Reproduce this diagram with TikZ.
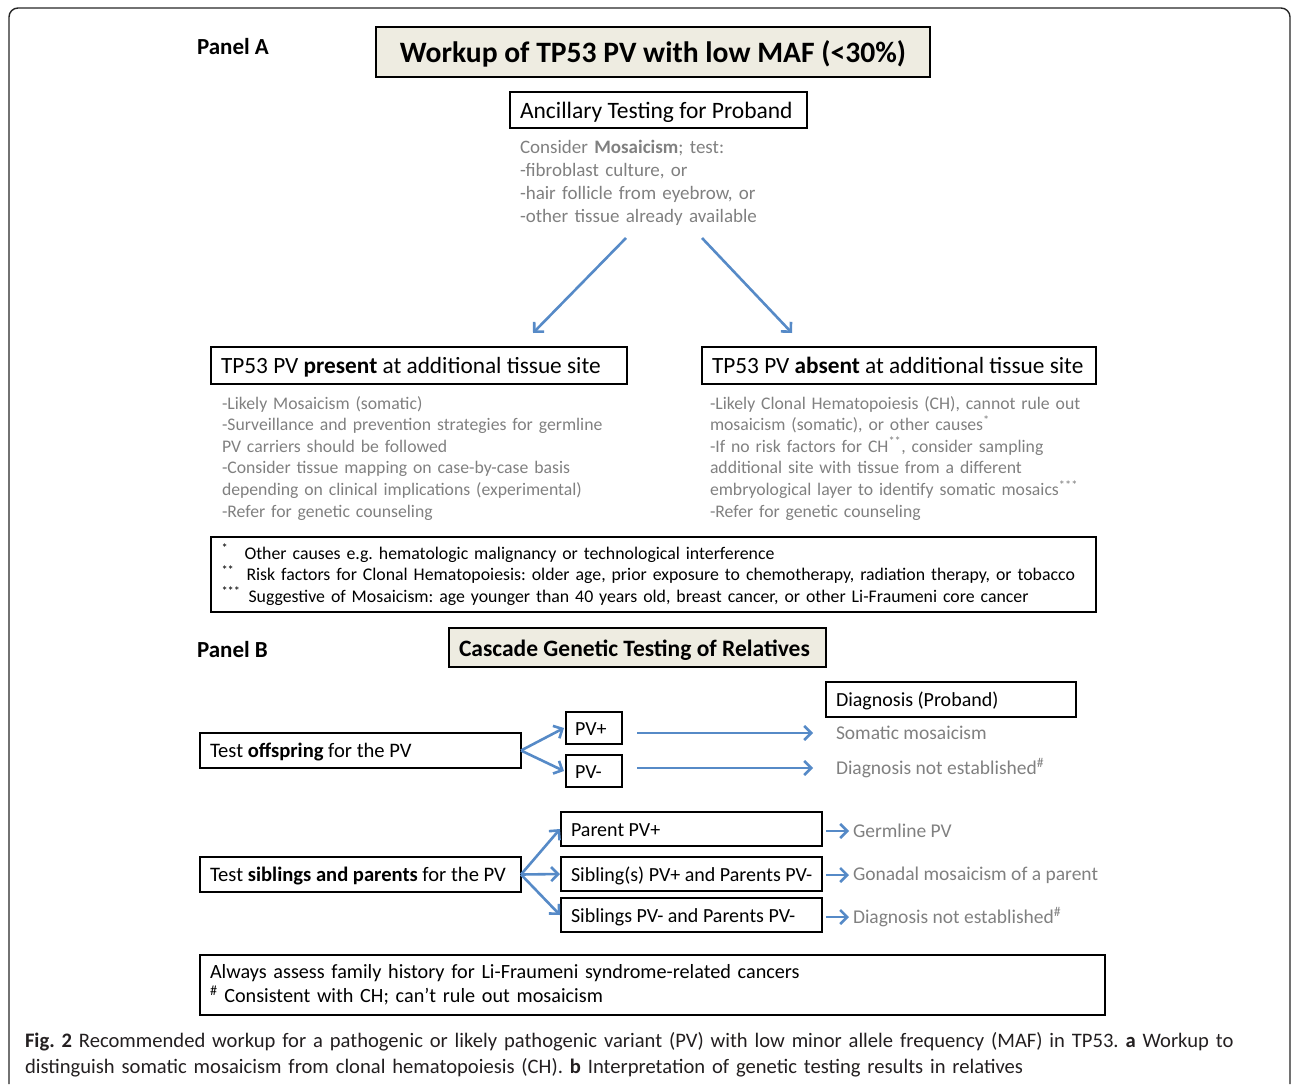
\documentclass[tikz,border=0pt]{standalone}
\usepackage{fontspec}
\setmainfont{Carlito}
\usetikzlibrary{arrows.meta,calc}
\definecolor{beige}{RGB}{238,236,225}
\definecolor{arrowblue}{RGB}{86,138,199}
\definecolor{graytext}{RGB}{128,128,128}
\definecolor{captext}{RGB}{35,31,32}
\newcommand{\lbx}[2]{\makebox[#1pt][l]{#2}}
\begin{document}
\frenchspacing
\begin{tikzpicture}[x=1pt,y=-1pt,
  box/.style={draw=black, line width=1.8pt, rectangle, anchor=north west, inner sep=0pt, outer sep=0pt, align=center},
  plain/.style={inner sep=0pt, outer sep=0pt},
  gtext/.style={plain, text=graytext, align=left},
  arr/.style={draw=arrowblue, line width=2.6pt, -{Straight Barb[length=7pt,width=14pt]}},
  fA/.style={font=\fontsize{23.3}{27}\selectfont, text height=16.6pt, text depth=0pt},
  fB/.style={font=\fontsize{20}{24}\selectfont, text height=14.5pt, text depth=0pt},
  fBt/.style={font=\fontsize{20.6}{24}\selectfont, text height=14.8pt, text depth=0pt},
  fBg/.style={font=\fontsize{19.5}{23}\selectfont},
]
\useasboundingbox (0,0) rectangle (1292,1084);
% outer frame
\draw[line width=1.4pt, black!85, rounded corners=9pt] (9,1084) -- (9,8) -- (1290,8) -- (1290,1084);

% ---------- Panel A ----------
\node[plain, anchor=west, font=\fontsize{23}{27}\selectfont\bfseries] (panelA) at (197,47) {Panel A};
\node[box, fill=beige, minimum width=554pt, minimum height=50pt, text height=21.6pt, text depth=0pt,
      font=\fontsize{29.6}{35}\selectfont\bfseries] (title) at (376,27) {Workup of TP53 PV with low MAF (<30\%)};
\node[box, font=\fontsize{23.5}{27}\selectfont, text height=16.8pt, text depth=0pt, minimum width=297pt, minimum height=36pt] (anc) at (510,92)
  {\lbx{277}{Ancillary Testing for Proband}};
\node[gtext, anchor=base west, text width=320pt, font=\fontsize{19}{23}\selectfont] (anctext) at (520,153)
  {Consider \textbf{Mosaicism}; test:\\-fibroblast culture, or\\-hair follicle from eyebrow, or\\-other tissue already available};

\node[box, fA, minimum width=416pt, minimum height=37pt] (present) at (211,347)
  {\lbx{396}{TP53 PV \textbf{present} at additional tissue site}};
\node[box, fA, minimum width=394pt, minimum height=37pt] (absent) at (702,347)
  {\lbx{374}{TP53 PV \textbf{absent} at additional tissue site}};

\node[gtext, anchor=base west, text width=410pt, font=\fontsize{17.7}{21.6}\selectfont] (presenttext) at (222,409)
  {-Likely Mosaicism (somatic)\\-Surveillance and prevention strategies for germline\\PV carriers should be followed\\-Consider tissue mapping on case-by-case basis\\depending on clinical implications (experimental)\\-Refer for genetic counseling};
\node[gtext, anchor=base west, text width=390pt, font=\fontsize{17.7}{21.6}\selectfont] (absenttext) at (710,409)
  {-Likely Clonal Hematopoiesis (CH), cannot rule out\\mosaicism (somatic), or other causes\textsuperscript{*}\\-If no risk factors for CH\textsuperscript{**}, consider sampling\\additional site with tissue from a different\\embryological layer to identify somatic mosaics\textsuperscript{***}\\-Refer for genetic counseling};

\coordinate (a1s) at (626,238);
\coordinate (a1e) at (533,333);
\coordinate (a2s) at (702,238);
\coordinate (a2e) at (792,333);
\draw[arr] (a1s) -- (a1e);
\draw[arr] (a2s) -- (a2e);

\node[box, align=left, minimum width=885pt, minimum height=75pt, text width=864pt, font=\fontsize{17.8}{21.5}\selectfont] (notes) at (211,537)
  {\makebox[23pt][l]{\textsuperscript{*}}Other causes e.g. hematologic malignancy or technological interference\\
   \makebox[25pt][l]{\textsuperscript{**}}Risk factors for Clonal Hematopoiesis: older age, prior exposure to chemotherapy, radiation therapy, or tobacco\\
   \makebox[27pt][l]{\textsuperscript{***}}Suggestive of Mosaicism: age younger than 40 years old, breast cancer, or other Li-Fraumeni core cancer};

% ---------- Panel B ----------
\node[plain, anchor=west, font=\fontsize{23}{27}\selectfont\bfseries] (panelB) at (197,650) {Panel B};
\node[box, fill=beige, minimum width=377pt, minimum height=39pt, text height=17.5pt, text depth=0pt,
      font=\fontsize{23.5}{27}\selectfont\bfseries] (cascade) at (449,628) {\lbx{357}{Cascade Genetic Testing of Relatives}};

\node[box, fB, minimum width=250pt, minimum height=35pt] (diag) at (826,682) {\lbx{230}{Diagnosis (Proband)}};
\node[box, fBt, minimum width=321pt, minimum height=35pt] (offspring) at (200,733) {\lbx{301}{Test \textbf{offspring} for the PV}};
\node[box, fB, minimum width=56pt, minimum height=32pt] (pvp) at (566,712) {\lbx{38}{PV+}};
\node[box, fB, minimum width=56pt, minimum height=32pt] (pvm) at (566,755) {\lbx{38}{PV-}};
\node[gtext, fBg, anchor=west] (somatic) at (836,733) {Somatic mosaicism};
\node[gtext, fBg, anchor=west] (dne1) at (836,768) {Diagnosis not established\textsuperscript{\#}};

\draw[arr] (offspring.east) -- ($(pvp.west)+(-2,0)$);
\draw[arr] (offspring.east) -- ($(pvm.west)+(-2,0)$);
\draw[arr] ($(pvp.east |- somatic.west)+(15,0)$) -- ($(somatic.west)+(-23,0)$);
\draw[arr] ($(pvm.east |- dne1.west)+(15,0)$) -- ($(dne1.west)+(-23,0)$);

\node[box, fBt, minimum width=321pt, minimum height=35pt] (siblings) at (200,857) {\lbx{301}{Test \textbf{siblings and parents} for the PV}};
\node[box, fB, minimum width=261pt, minimum height=34pt] (parent) at (561,812) {\lbx{241}{Parent PV+}};
\node[box, fB, minimum width=261pt, minimum height=34pt] (sib1) at (561,857) {\lbx{241}{Sibling(s) PV+ and Parents PV-}};
\node[box, fB, minimum width=261pt, minimum height=34pt] (sib2) at (561,898) {\lbx{241}{Siblings PV- and Parents PV-}};
\node[gtext, fBg, anchor=west] (germ) at (853,831) {Germline PV};
\node[gtext, fBg, anchor=west] (gonadal) at (853,875) {Gonadal mosaicism of a parent};
\node[gtext, fBg, anchor=west] (dne2) at (853,917) {Diagnosis not established\textsuperscript{\#}};

\draw[arr] (siblings.east) -- ($(parent.west)+(-1,0)$);
\draw[arr] (siblings.east) -- ($(sib1.west)+(-1,0)$);
\draw[arr] (siblings.east) -- ($(sib2.west)+(-1,0)$);
\draw[arr] ($(parent.east |- germ.west)+(4,0)$) -- ($(germ.west)+(-4,0)$);
\draw[arr] ($(sib1.east |- gonadal.west)+(4,0)$) -- ($(gonadal.west)+(-4,0)$);
\draw[arr] ($(sib2.east |- dne2.west)+(4,0)$) -- ($(dne2.west)+(-4,0)$);

\node[box, align=left, minimum width=905pt, minimum height=60pt, text width=885pt, font=\fontsize{20.2}{24}\selectfont] (bottom) at (200,955)
  {Always assess family history for Li-Fraumeni syndrome-related cancers\\\textsuperscript{\#} Consistent with CH; can’t rule out mosaicism};

% ---------- caption ----------
\node[plain, anchor=base west, text=captext, text width=1250pt, align=left, font=\fontsize{20.6}{26}\selectfont] (caption) at (25,1047)
  {\textbf{Fig. 2} Recommended workup for a pathogenic or likely pathogenic variant (PV) with low minor allele frequency (MAF) in TP53. \textbf{a} Workup to\\
   distinguish somatic mosaicism from clonal hematopoiesis (CH). \textbf{b} Interpretation of genetic testing results in relatives};
\end{tikzpicture}
\end{document}
